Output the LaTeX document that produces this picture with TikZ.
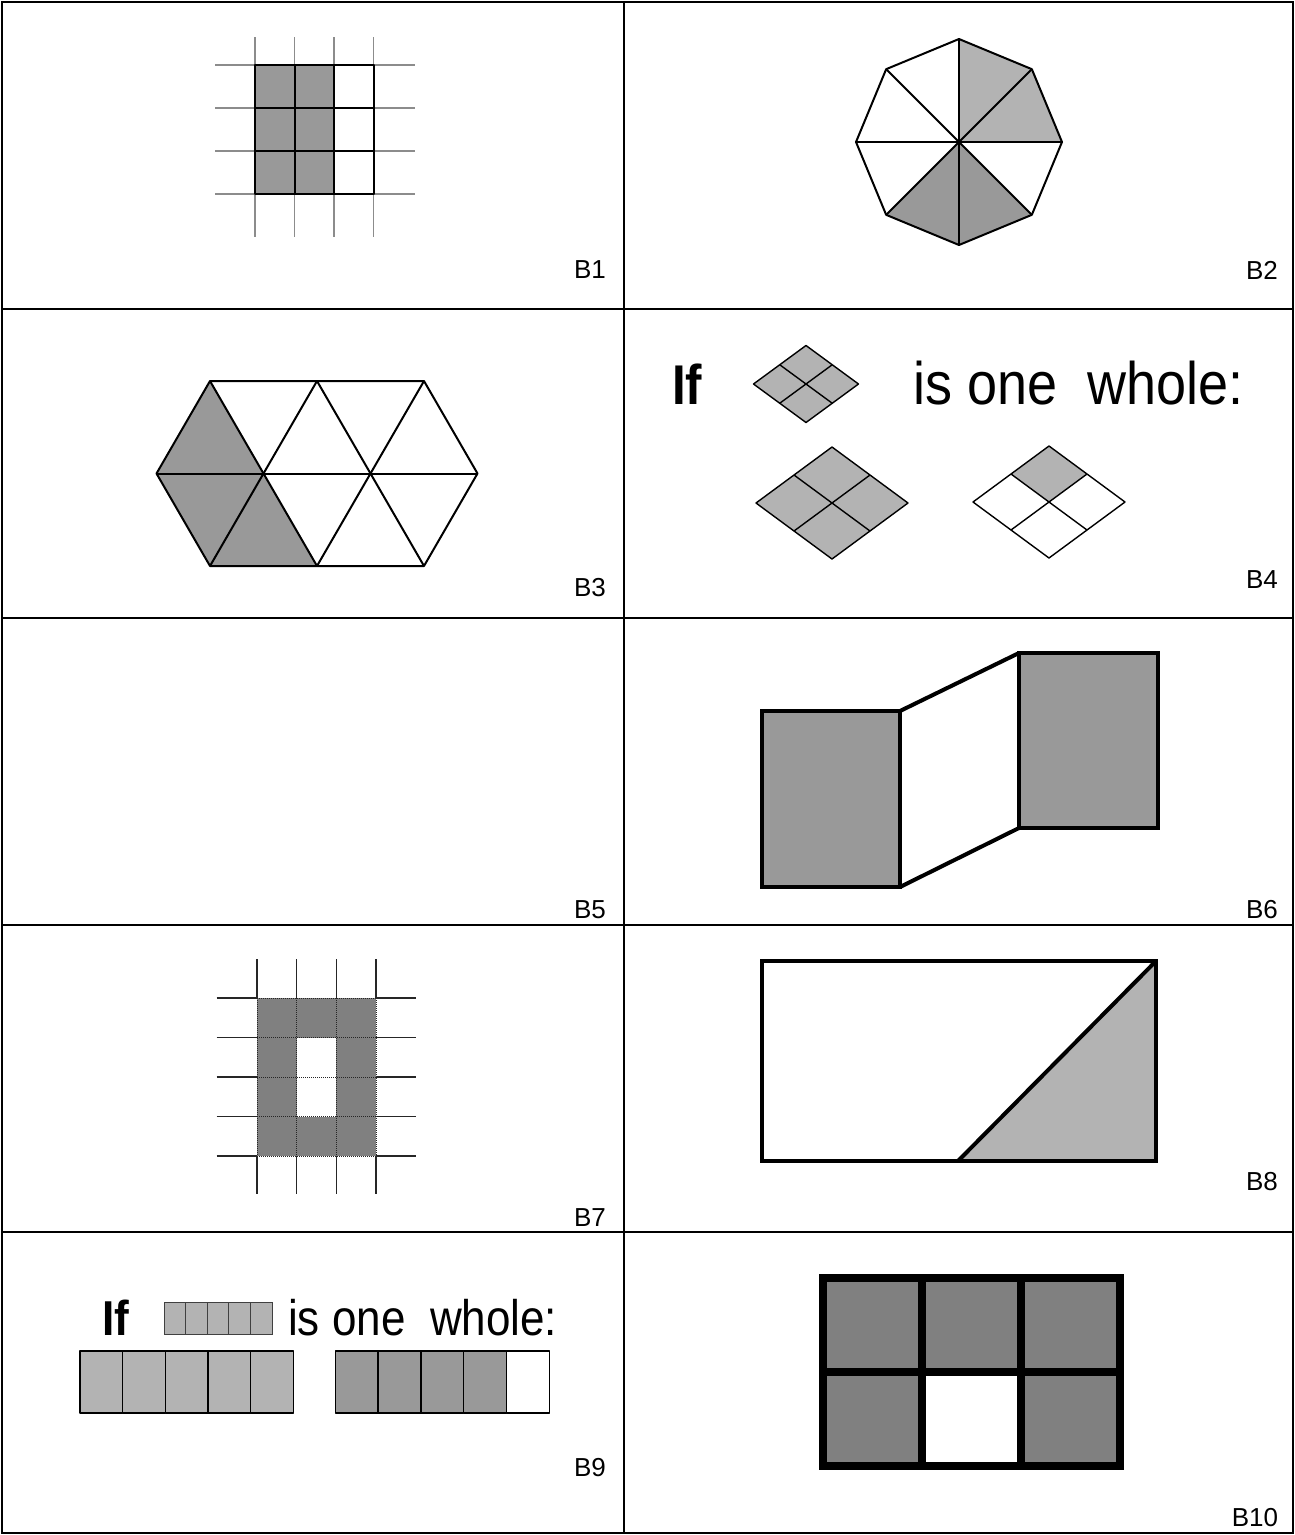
\documentclass[tikz,border=0pt]{standalone}
\usepackage{fontspec}
\setmainfont{Liberation Sans}
\usepackage{tikz}
\usetikzlibrary{positioning}

\definecolor{paleshade}{HTML}{B3B3B3}
\definecolor{midshade}{HTML}{999999}
\definecolor{darkshade}{HTML}{808080}

\begin{document}
\begin{tikzpicture}[
    x=1pt, y=-1pt,
    frame/.style={draw, line width=1.4pt},
    tag/.style={inner sep=0pt, font=\fontsize{26}{30}\selectfont},
    guide/.style={draw=black!45, line width=1.4pt},
    rim/.style={draw, line width=2pt, line join=round},
    fine/.style={draw, line width=1.4pt, line join=round},
    heavy/.style={draw, line width=4pt},
    bold/.style={draw, line width=7.5pt},
    dotline/.style={draw=black!85, line width=1pt, densely dotted},
    stub/.style={draw=black!85, line width=1.2pt},
    say/.style={inner sep=0pt, anchor=base west}
  ]
    \useasboundingbox (0,0) rectangle (1295,1535);

    \draw[frame] (2,2) rectangle (1293,1533);
    \draw[frame] (624,2) -- (624,1533);
    \foreach \y in {309,618,925,1232}
      \draw[frame] (2,\y) -- (1293,\y);

    % B1
    \foreach \x in {255,294.5,334,373.5}
      \draw[guide] (\x,37) -- (\x,237);
    \foreach \y in {65,108,151,194}
      \draw[guide] (215,\y) -- (415,\y);
    \foreach \x in {255,294.5}
      \foreach \y in {65,108,151}
        \filldraw[fill=midshade, rim] (\x,\y) rectangle +(39.5,43);
    \foreach \y in {65,108,151}
      \draw[rim] (334,\y) rectangle +(39.5,43);

    % B2
    \begin{scope}[shift={(959,142)}]
      \fill[paleshade] (0,0) -- (-90:103) -- (-45:103) -- (0:103) -- cycle;
      \fill[midshade] (0,0) -- (45:103) -- (90:103) -- (135:103) -- cycle;
      \draw[rim] (0:103) \foreach \a in {45,90,...,315} { -- (\a:103) } -- cycle;
      \foreach \a in {0,45,90,135}
        \draw[rim] (\a:103) -- (\a+180:103);
    \end{scope}

    % B3
    \coordinate (t1) at (210,381);
    \coordinate (t2) at (317,381);
    \coordinate (t3) at (424,381);
    \coordinate (m0) at (156.5,473.5);
    \coordinate (m1) at (263.5,473.5);
    \coordinate (m2) at (370.5,473.5);
    \coordinate (m3) at (477.5,473.5);
    \coordinate (u1) at (210,566);
    \coordinate (u2) at (317,566);
    \coordinate (u3) at (424,566);
    \fill[midshade] (t1) -- (u2) -- (u1) -- (m0) -- cycle;
    \draw[rim] (t1) -- (t3) -- (m3) -- (u3) -- (u1) -- (m0) -- cycle;
    \draw[rim] (m0) -- (m3);
    \draw[rim] (t1) -- (u2);
    \draw[rim] (t2) -- (u3);
    \draw[rim] (t2) -- (u1);
    \draw[rim] (t3) -- (u2);

    % B4
    \node[say] (ifA) at (672,404) {\scalebox{0.88}[1]{\bfseries\fontsize{56}{66}\selectfont If}};
    \node[say] (wholeA) at (913,404) {\scalebox{0.9}[1]{\fontsize{60}{72}\selectfont is one~~whole:}};
    \begin{scope}[shift={(806,384)}]
      \filldraw[fill=paleshade, fine] (-52.5,0) -- (0,-38.5) -- (52.5,0) -- (0,38.5) -- cycle;
      \draw[fine] (-26.25,-19.25) -- (26.25,19.25);
      \draw[fine] (26.25,-19.25) -- (-26.25,19.25);
    \end{scope}
    \begin{scope}[shift={(832,503)}]
      \filldraw[fill=paleshade, fine] (-76,0) -- (0,-56) -- (76,0) -- (0,56) -- cycle;
      \draw[fine] (-38,-28) -- (38,28);
      \draw[fine] (38,-28) -- (-38,28);
    \end{scope}
    \begin{scope}[shift={(1049,502)}]
      \fill[paleshade] (0,-56) -- (38,-28) -- (0,0) -- (-38,-28) -- cycle;
      \draw[fine] (-76,0) -- (0,-56) -- (76,0) -- (0,56) -- cycle;
      \draw[fine] (-38,-28) -- (38,28);
      \draw[fine] (38,-28) -- (-38,28);
    \end{scope}

    % B6
    \filldraw[fill=midshade, heavy] (762,711) rectangle (900,887);
    \filldraw[fill=midshade, heavy] (1019,653) rectangle (1158,828);
    \draw[heavy] (900,711) -- (1019,653);
    \draw[heavy] (900,887) -- (1019,828);

    % B7
    \fill[darkshade] (257,998) rectangle (376,1156);
    \fill[white] (296.7,1037.5) rectangle (336.3,1116.5);
    \foreach \x in {257,296.7,336.3,376} {
      \draw[stub] (\x,959) -- (\x,998);
      \draw[stub] (\x,1156) -- (\x,1194);
      \draw[dotline] (\x,998) -- (\x,1156);
    }
    \foreach \y in {998,1037.5,1077,1116.5,1156} {
      \draw[stub] (216.5,\y) -- (257,\y);
      \draw[stub] (376,\y) -- (416,\y);
      \draw[dotline] (257,\y) -- (376,\y);
    }

    % B8
    \fill[paleshade] (958,1161) -- (1156,961) -- (1156,1161) -- cycle;
    \draw[heavy] (762,961) rectangle (1156,1161);
    \draw[heavy] (958,1161) -- (1156,961);

    % B9
    \node[say] (ifB) at (102,1335) {\scalebox{0.9}[1]{\bfseries\fontsize{49}{58}\selectfont If}};
    \foreach \i in {0,...,4}
      \filldraw[fill=paleshade, draw=black!75, line width=1pt] (164+21.6*\i,1302) rectangle +(21.6,32);
    \node[say] (wholeB) at (288,1335) {\scalebox{0.88}[1]{\fontsize{50}{60}\selectfont is one~~whole:}};
    \foreach \i in {0,...,4}
      \filldraw[fill=paleshade, fine] (80+42.66*\i,1351) rectangle +(42.66,62);
    \foreach \i in {0,...,3}
      \filldraw[fill=midshade, fine] (335.3+42.8*\i,1351) rectangle +(42.8,62);
    \draw[fine] (506.5,1351) rectangle (549.3,1413);

    % B10
    \fill[darkshade] (823,1278) rectangle (1120,1466);
    \fill[white] (922,1372) rectangle (1021,1466);
    \draw[bold] (823,1278) rectangle (1120,1466);
    \draw[bold] (922,1278) -- (922,1466);
    \draw[bold] (1021,1278) -- (1021,1466);
    \draw[bold] (823,1372) -- (1120,1372);

    \node[tag] (b1) at (590,270) {B1};
    \node[tag] (b2) at (1262,270) {B2};
    \node[tag] (b3) at (590,588) {B3};
    \node[tag] (b4) at (1262,580) {B4};
    \node[tag] (b5) at (590,910) {B5};
    \node[tag] (b6) at (1262,910) {B6};
    \node[tag] (b7) at (590,1218) {B7};
    \node[tag] (b8) at (1262,1182) {B8};
    \node[tag] (b9) at (590,1468) {B9};
    \node[tag] (b10) at (1255,1518) {B10};
  \end{tikzpicture}
\end{document}
